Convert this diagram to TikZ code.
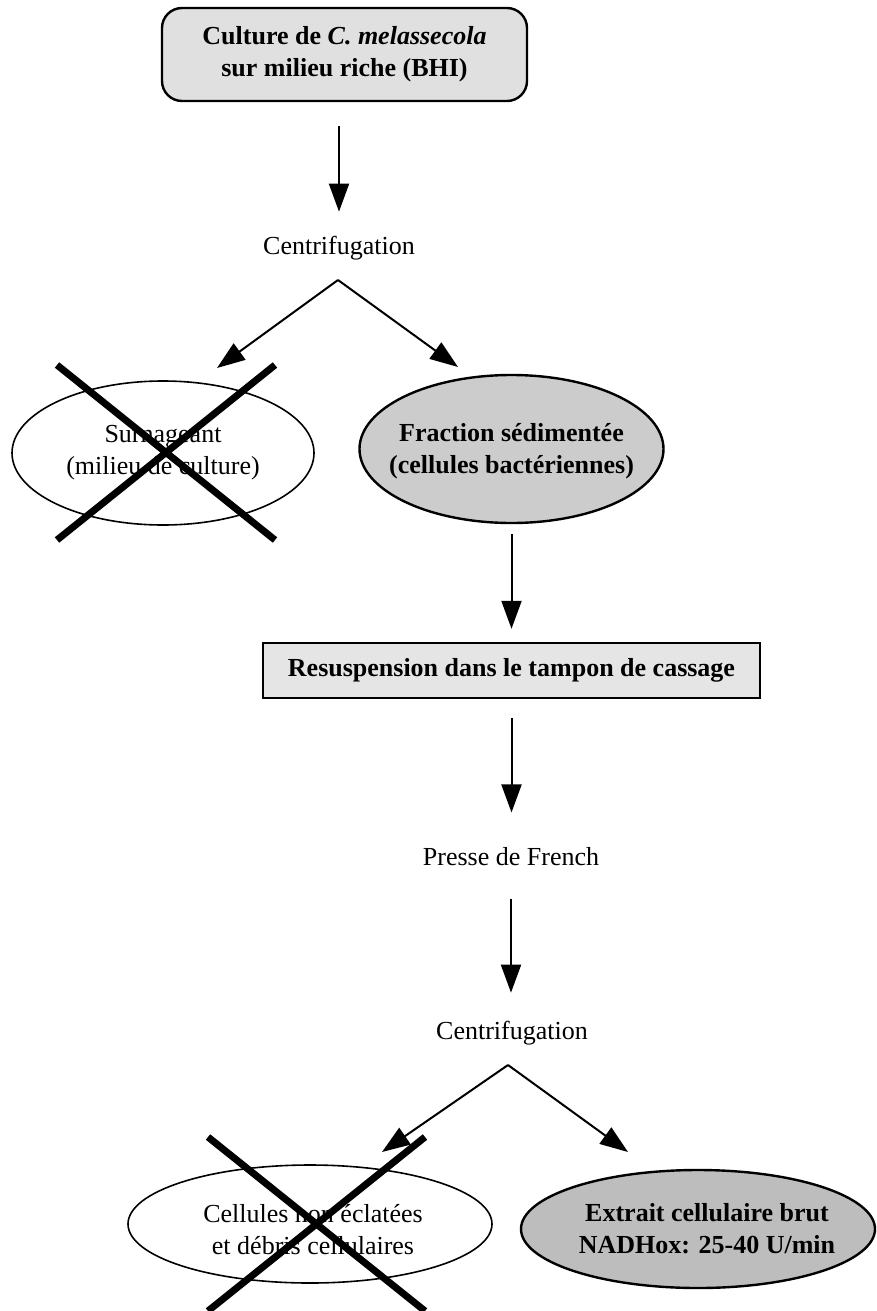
\documentclass[tikz,border=0pt]{standalone}
\usepackage{fontspec}
\setmainfont{Liberation Serif}
\usetikzlibrary{arrows.meta,shapes.geometric,calc}
\definecolor{boxgray}{gray}{0.88}
\definecolor{fracgray}{gray}{0.80}
\definecolor{resgray}{gray}{0.90}
\definecolor{extgray}{gray}{0.74}
\begin{document}
\begin{tikzpicture}[x=0.5pt,y=-0.5pt,
  every node/.style={font=\fontsize{13}{16}\selectfont},
  lbl/.style={inner sep=0pt, align=center},
  arr/.style={-{Triangle[length=14pt,width=10pt]}, line width=1pt},
  oval/.style={ellipse, draw, inner sep=0pt, line width=0.8pt},
  crossline/.style={line width=3.5pt},
  ]
\useasboundingbox (0,0) rectangle (877,1311);

% top box
\node[draw, line width=1.2pt, rounded corners=10pt, fill=boxgray, inner sep=0pt,
      minimum width=182.5pt, minimum height=46.5pt, align=center] (culture) at (344.5,54.5)
  {\textbf{Culture de \textit{C. melassecola}}\\\textbf{sur milieu riche (BHI)}};

\node[lbl] (centri1) at (339,248) {Centrifugation};
\draw[arr, shorten <=12pt, shorten >=12pt] (culture.south -| centri1) -- (centri1.north);

\coordinate (ap1) at (338,280);
\coordinate (t1l) at (217,368);
\coordinate (t1r) at (458,367);
\draw[arr] (ap1) -- (t1l);
\draw[arr] (ap1) -- (t1r);

% left ellipse (crossed)
\node[oval, minimum width=151pt, minimum height=72pt] (surn) at (163,453) {};
\node[lbl] (surnT) at (163,453) {Surnageant\\(milieu de culture)};
\draw[crossline] (57,365) -- (275,540);
\draw[crossline] (275,365) -- (57,540);

% fraction ellipse
\node[oval, line width=1.2pt, fill=fracgray, minimum width=152pt, minimum height=74pt] (frac) at (511.5,449) {};
\node[lbl] (fracT) at (511.5,451) {\textbf{Fraction sédimentée}\\\textbf{(cellules bactériennes)}};

% resuspension box
\node[draw, line width=1.2pt, fill=resgray, inner sep=0pt,
      minimum width=248.5pt, minimum height=27.5pt] (resus) at (511.5,670.5)
  {\textbf{Resuspension dans le tampon de cassage}};
\draw[arr, shorten <=5pt, shorten >=6.5pt] (frac.south) -- (resus.north);

\node[lbl] (presse) at (511,857) {Presse de French};
\draw[arr, shorten <=9.5pt, shorten >=17.5pt] (resus.south) -- (resus.south |- presse.north);

\node[lbl] (centri2) at (512,1033) {Centrifugation};
\draw[arr, shorten <=16pt, shorten >=14pt] (presse.south) -- (presse.south |- centri2.north);

\coordinate (ap2) at (508,1065);
\coordinate (t2l) at (382,1152);
\coordinate (t2r) at (628,1152);
\draw[arr] (ap2) -- (t2l);
\draw[arr] (ap2) -- (t2r);

% bottom left (crossed)
\node[oval, minimum width=182pt, minimum height=59pt] (debris) at (310,1224) {};
\node[lbl] (debrisT) at (313,1230) {Cellules non éclatées\\et débris cellulaires};
\draw[crossline] (208,1137) -- (425,1311);
\draw[crossline] (425,1137) -- (208,1311);

% bottom right
\node[oval, line width=1.2pt, fill=extgray, minimum width=177pt, minimum height=59pt] (extrait) at (698,1229) {};
\node[lbl] (extraitT) at (707,1229) {\textbf{Extrait cellulaire brut}\\\textbf{NADHox: 25-40 U/min}};
\end{tikzpicture}
\end{document}
